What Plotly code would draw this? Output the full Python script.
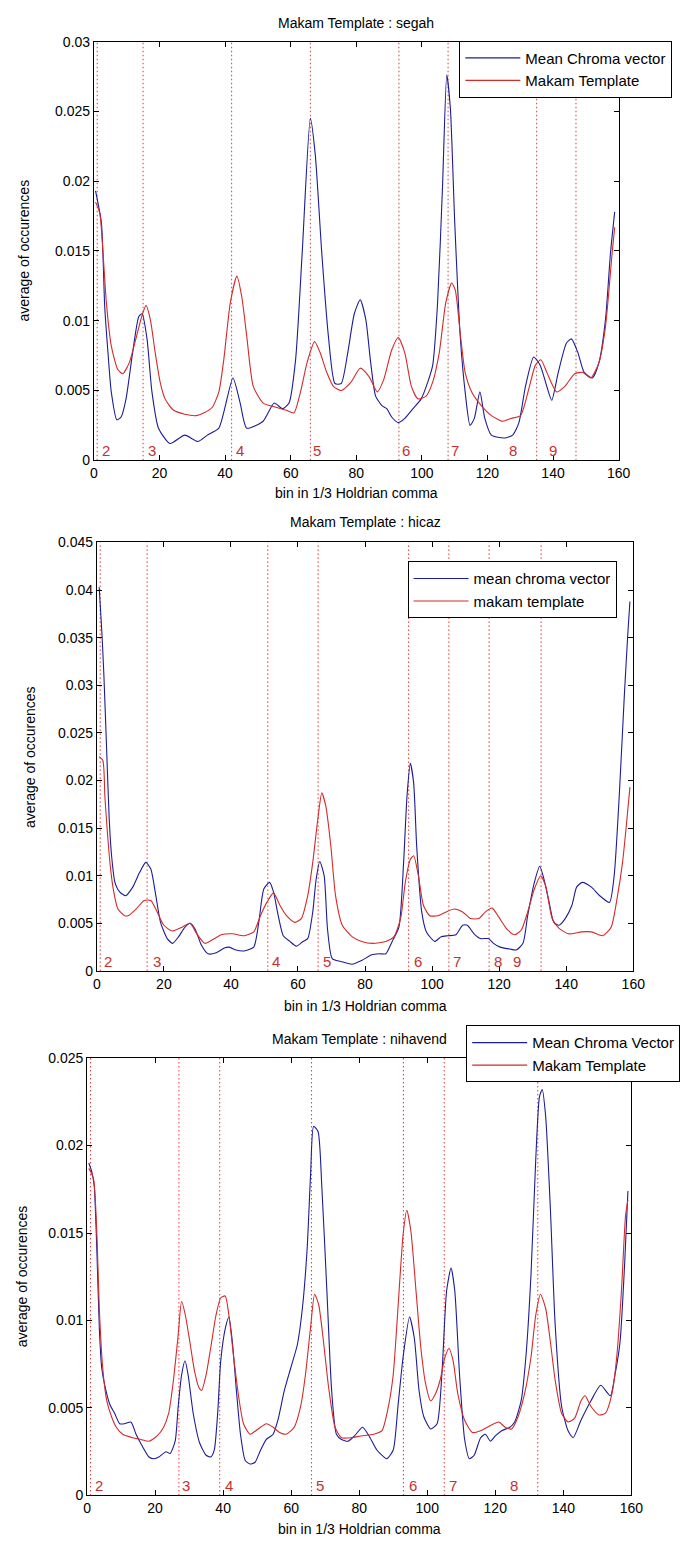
import plotly.graph_objects as go

# ---------------- data ----------------
x_ticks = [0, 20, 40, 60, 80, 100, 120, 140, 160]

segah_mean = [
    (0.5, 0.0193), (2.3, 0.0170), (3.3, 0.0110), (4.3, 0.0077), (5.3, 0.0049), (7.0, 0.0029),
    (8.3, 0.0031), (9.8, 0.0044), (11.8, 0.0077), (13.7, 0.0103), (14.7, 0.0105), (16.2, 0.0087),
    (17.7, 0.0049), (19.7, 0.0023), (23.2, 0.0012), (27.7, 0.0018), (31.7, 0.00135), (34.6, 0.0018),
    (38.1, 0.0023), (42.4, 0.0059), (44.6, 0.0041), (46.6, 0.0023), (51.6, 0.0028), (55.0, 0.0041),
    (57.5, 0.0037), (59.5, 0.0041), (61.5, 0.0072), (63.5, 0.0148), (66.0, 0.0245), (67.5, 0.0219),
    (69.5, 0.0148), (71.5, 0.0089), (73.5, 0.0055), (75.4, 0.0055), (77.4, 0.0077), (79.4, 0.0105),
    (81.2, 0.0115), (82.9, 0.0101), (84.4, 0.0070), (85.9, 0.0046), (87.9, 0.0039), (89.3, 0.0037),
    (90.8, 0.0031), (92.8, 0.0027), (94.8, 0.0030), (97.3, 0.0037), (99.8, 0.0044), (101.8, 0.0056),
    (103.3, 0.0068), (104.8, 0.0113), (106.3, 0.0196), (107.6, 0.0276), (108.7, 0.0252), (110.0, 0.0172),
    (111.7, 0.0089), (113.2, 0.0049), (114.7, 0.0025), (116.0, 0.0030), (117.7, 0.0049), (119.2, 0.0030),
    (121.2, 0.0018), (125.2, 0.0016), (127.7, 0.0018), (129.6, 0.0027), (131.6, 0.0053), (134.1, 0.0074),
    (136.1, 0.0068), (138.1, 0.0053), (139.6, 0.0043), (141.6, 0.0063), (144.1, 0.0084), (145.6, 0.0087),
    (147.6, 0.0077), (149.5, 0.0063), (152.0, 0.0059), (154.0, 0.0070), (156.0, 0.0101), (157.5, 0.0148),
    (158.8, 0.0178)]

segah_template = [
    (0.5, 0.0185), (1.8, 0.0177), (2.8, 0.0148), (3.8, 0.0113), (5.3, 0.0082), (7.3, 0.0065),
    (8.8, 0.0062), (10.8, 0.0070), (12.8, 0.0087), (14.7, 0.0104), (15.9, 0.0111), (17.2, 0.0101),
    (18.7, 0.0077), (20.2, 0.0056), (21.7, 0.0044), (24.2, 0.0036), (27.7, 0.0033), (31.2, 0.0032),
    (33.6, 0.0034), (36.1, 0.0038), (38.1, 0.0049), (39.6, 0.0072), (41.6, 0.0113), (43.6, 0.0132),
    (45.1, 0.0117), (46.6, 0.0089), (48.6, 0.0053), (51.6, 0.0041), (55.5, 0.0038), (58.5, 0.0036),
    (61.0, 0.0034), (63.0, 0.0049), (65.0, 0.0070), (67.3, 0.0085), (69.0, 0.0077), (71.0, 0.0063),
    (73.0, 0.0053), (75.4, 0.0050), (78.4, 0.0056), (81.2, 0.0066), (83.9, 0.0060), (86.4, 0.0049),
    (88.4, 0.0058), (90.8, 0.0079), (92.8, 0.0088), (94.8, 0.0077), (96.8, 0.0053), (98.8, 0.0044),
    (101.3, 0.0046), (103.3, 0.0056), (105.3, 0.0077), (107.3, 0.0113), (109.1, 0.0127), (110.2, 0.0122),
    (111.7, 0.0091), (113.2, 0.0063), (115.2, 0.0049), (118.2, 0.0039), (121.2, 0.0032), (124.7, 0.0028),
    (127.2, 0.0030), (130.1, 0.0032), (132.6, 0.0051), (134.6, 0.0068), (136.3, 0.0072), (138.1, 0.0063),
    (141.1, 0.0049), (143.6, 0.0053), (146.6, 0.0062), (149.1, 0.0063), (151.5, 0.0059), (154.0, 0.0070),
    (156.0, 0.0096), (158.0, 0.0148), (158.8, 0.0167)]

hicaz_mean = [
    (0.7, 0.0403), (1.5, 0.0356), (2.1, 0.0311), (2.9, 0.0235), (3.7, 0.0159), (4.4, 0.0121),
    (5.4, 0.0093), (6.8, 0.0083), (8.6, 0.0079), (10.7, 0.0088), (12.7, 0.0103), (14.6, 0.0114),
    (16.1, 0.0107), (17.6, 0.0079), (19.0, 0.0051), (21.0, 0.0034), (22.6, 0.0029), (24.4, 0.0036),
    (26.3, 0.0046), (27.8, 0.0050), (29.3, 0.0044), (31.2, 0.0027), (33.2, 0.0018), (35.6, 0.0019),
    (38.0, 0.0024), (39.5, 0.0025), (41.5, 0.0022), (43.9, 0.0021), (46.8, 0.0025), (48.3, 0.0051),
    (49.8, 0.0086), (51.5, 0.0093), (52.7, 0.0083), (54.1, 0.0058), (55.6, 0.0037), (57.6, 0.0031),
    (59.5, 0.0026), (61.5, 0.0031), (62.9, 0.0034), (64.4, 0.0062), (65.4, 0.0096), (66.5, 0.0115),
    (67.8, 0.0100), (68.8, 0.0044), (70.2, 0.0013), (72.7, 0.0010), (76.1, 0.0007), (79.0, 0.0011),
    (82.0, 0.0017), (84.2, 0.0018), (86.2, 0.0018), (88.1, 0.0031), (90.1, 0.0046), (91.5, 0.0114),
    (92.5, 0.0183), (93.5, 0.0218), (94.5, 0.0197), (95.4, 0.0131), (96.9, 0.0062), (98.3, 0.0041),
    (100.8, 0.0031), (102.7, 0.0036), (104.7, 0.0037), (107.1, 0.0038), (109.1, 0.0048), (110.5, 0.0048),
    (112.5, 0.0039), (114.4, 0.0034), (116.8, 0.0034), (118.3, 0.0029), (120.3, 0.0025), (123.2, 0.0023),
    (125.1, 0.0022), (127.1, 0.0029), (128.5, 0.0058), (130.5, 0.0093), (132.1, 0.0110), (133.4, 0.0096),
    (134.9, 0.0072), (136.3, 0.0051), (137.8, 0.0048), (139.7, 0.0055), (141.7, 0.0069), (143.1, 0.0088),
    (144.8, 0.0093), (147.5, 0.0088), (150.0, 0.0079), (152.9, 0.0072), (154.3, 0.0100), (155.8, 0.0183),
    (157.3, 0.0287), (158.4, 0.0356), (159.0, 0.0388)]

hicaz_template = [
    (0.7, 0.0225), (1.8, 0.0221), (2.4, 0.0183), (3.1, 0.0148), (3.9, 0.0114), (4.9, 0.0086),
    (6.3, 0.0065), (8.3, 0.0058), (9.3, 0.0058), (11.7, 0.0065), (14.1, 0.0074), (16.1, 0.0074),
    (18.0, 0.0062), (20.0, 0.0048), (22.4, 0.0042), (25.4, 0.0046), (27.8, 0.0050), (29.8, 0.0039),
    (32.2, 0.0029), (34.6, 0.0033), (37.1, 0.0038), (40.5, 0.0039), (43.9, 0.0037), (46.8, 0.0041),
    (48.8, 0.0058), (50.7, 0.0072), (52.7, 0.0082), (54.6, 0.0069), (56.6, 0.0058), (59.0, 0.0051),
    (61.0, 0.0055), (62.9, 0.0079), (64.4, 0.0114), (65.9, 0.0159), (67.1, 0.0187), (68.3, 0.0173),
    (69.8, 0.0131), (71.2, 0.0079), (73.2, 0.0048), (76.1, 0.0036), (79.0, 0.0031), (82.3, 0.0029),
    (86.2, 0.0031), (88.6, 0.0036), (90.6, 0.0055), (92.0, 0.0093), (93.5, 0.0117), (94.5, 0.0121),
    (95.9, 0.0100), (97.4, 0.0069), (99.3, 0.0058), (101.8, 0.0058), (104.2, 0.0062), (106.6, 0.0065),
    (109.1, 0.0062), (111.5, 0.0055), (113.9, 0.0055), (115.9, 0.0062), (117.9, 0.0066), (119.8, 0.0057),
    (122.3, 0.0044), (124.6, 0.0038), (126.6, 0.0043), (128.5, 0.0062), (130.5, 0.0086), (132.4, 0.0100),
    (133.9, 0.0089), (135.8, 0.0055), (137.8, 0.0045), (140.7, 0.0039), (144.6, 0.0041), (147.5, 0.0041),
    (150.9, 0.0037), (153.4, 0.0046), (155.3, 0.0079), (156.8, 0.0114), (157.8, 0.0148), (159.0, 0.0193)]

nihavend_mean = [
    (0.5, 0.0190), (1.4, 0.0185), (2.1, 0.0177), (2.9, 0.0139), (3.6, 0.0096), (4.3, 0.0073),
    (5.3, 0.0062), (6.7, 0.0052), (8.1, 0.0047), (9.6, 0.0041), (11.0, 0.0041), (12.9, 0.0042),
    (14.4, 0.0035), (16.3, 0.0028), (18.2, 0.0022), (19.7, 0.0021), (21.1, 0.0022), (23.2, 0.0025),
    (24.4, 0.0024), (25.9, 0.0031), (26.8, 0.0051), (27.8, 0.0069), (28.8, 0.0077), (29.7, 0.0069),
    (31.2, 0.0047), (33.1, 0.0030), (35.0, 0.0023), (36.4, 0.0022), (37.4, 0.0026), (38.4, 0.0047),
    (39.3, 0.0077), (40.7, 0.0096), (41.7, 0.0102), (42.7, 0.0088), (43.9, 0.0060), (45.1, 0.0035),
    (46.5, 0.0020), (47.9, 0.0018), (49.4, 0.0019), (50.8, 0.0025), (52.7, 0.0032), (54.7, 0.0035),
    (56.1, 0.0043), (58.0, 0.0060), (59.9, 0.0073), (61.8, 0.0086), (63.3, 0.0107), (64.7, 0.0141),
    (65.7, 0.0183), (66.6, 0.0211), (67.9, 0.0208), (69.0, 0.0177), (70.5, 0.0117), (71.9, 0.0060),
    (73.3, 0.0035), (74.8, 0.0032), (76.7, 0.0031), (78.6, 0.0034), (81.0, 0.0039), (82.9, 0.0034),
    (85.2, 0.0026), (88.1, 0.0021), (90.0, 0.0026), (91.4, 0.0051), (92.9, 0.0079), (94.8, 0.0102),
    (96.2, 0.0090), (97.6, 0.0060), (99.0, 0.0045), (101.0, 0.0038), (102.9, 0.0041), (104.3, 0.0069),
    (105.7, 0.0117), (107.0, 0.0130), (108.1, 0.0117), (109.5, 0.0069), (111.0, 0.0032), (112.4, 0.0021),
    (113.8, 0.0023), (115.7, 0.0033), (117.1, 0.0035), (118.6, 0.0031), (120.0, 0.0034), (121.9, 0.0037),
    (124.3, 0.0039), (125.7, 0.0042), (127.6, 0.0054), (129.0, 0.0079), (130.5, 0.0126), (131.9, 0.0192),
    (133.0, 0.0228), (133.8, 0.0232), (134.8, 0.0217), (136.2, 0.0164), (137.6, 0.0098), (139.5, 0.0051),
    (141.4, 0.0037), (142.9, 0.0033), (145.2, 0.0043), (148.1, 0.0054), (151.0, 0.0063), (153.8, 0.0057),
    (155.2, 0.0069), (156.7, 0.0088), (158.1, 0.0135), (159.0, 0.0174)]

nihavend_template = [
    (0.5, 0.0187), (1.9, 0.0181), (2.9, 0.0149), (3.6, 0.0107), (4.6, 0.0073), (5.8, 0.0054),
    (7.2, 0.0045), (8.6, 0.0039), (10.5, 0.0035), (13.4, 0.0033), (15.8, 0.0032), (18.2, 0.0031),
    (20.6, 0.0034), (22.5, 0.0039), (24.0, 0.0047), (25.4, 0.0066), (26.7, 0.0090), (27.8, 0.0111),
    (28.9, 0.0103), (30.2, 0.0088), (31.6, 0.0071), (32.8, 0.0062), (33.7, 0.0060), (35.0, 0.0069),
    (36.4, 0.0085), (37.9, 0.0103), (39.3, 0.0113), (40.6, 0.0114), (41.7, 0.0103), (43.1, 0.0079),
    (44.6, 0.0056), (46.0, 0.0041), (47.9, 0.0035), (50.3, 0.0038), (52.7, 0.0041), (54.7, 0.0039),
    (56.6, 0.0036), (58.5, 0.0035), (60.9, 0.0039), (62.8, 0.0051), (64.2, 0.0069), (65.7, 0.0096),
    (66.9, 0.0115), (68.1, 0.0109), (69.5, 0.0088), (71.0, 0.0062), (72.9, 0.0039), (74.8, 0.0033),
    (77.7, 0.0033), (80.5, 0.0034), (84.3, 0.0035), (86.7, 0.0037), (88.6, 0.0051), (90.0, 0.0069),
    (91.4, 0.0107), (92.9, 0.0149), (94.0, 0.0163), (95.2, 0.0151), (96.7, 0.0117), (98.1, 0.0085),
    (99.5, 0.0064), (101.0, 0.0054), (102.4, 0.0058), (103.8, 0.0066), (105.2, 0.0079), (106.4, 0.0084),
    (107.6, 0.0077), (109.0, 0.0058), (111.0, 0.0043), (113.3, 0.0036), (115.7, 0.0037), (118.6, 0.0040),
    (121.0, 0.0042), (122.9, 0.0039), (124.8, 0.0038), (126.7, 0.0045), (128.6, 0.0058), (130.5, 0.0079),
    (131.9, 0.0103), (133.3, 0.0115), (134.8, 0.0107), (136.2, 0.0088), (137.6, 0.0066), (139.5, 0.0047),
    (141.4, 0.0042), (143.3, 0.0044), (145.2, 0.0054), (146.4, 0.0057), (148.1, 0.0051), (150.5, 0.0046),
    (152.4, 0.0047), (154.3, 0.0058), (155.7, 0.0079), (157.1, 0.0117), (158.3, 0.0160), (159.0, 0.0169)]

segah_lines = [1, 15, 42, 66, 93, 108, 135, 147]
segah_label_x = [3.8, 17.8, 44.4, 68.1, 95.3, 110, 127.7, 140]
segah_labels = ["2", "3", "4", "5", "6", "7", "8", "9"]

hicaz_lines = [1, 15, 51, 66, 93, 105, 117, 132.5]
hicaz_label_x = [3.4, 17.8, 53.5, 68.6, 95.8, 107.5, 119.7, 125.4]
hicaz_labels = ["2", "3", "4", "5", "6", "7", "8", "9"]

nihavend_lines = [1, 27, 39, 66, 93, 105, 132.5]
nihavend_label_x = [3.6, 29.2, 41.7, 68.6, 95.7, 107.6, 125.4]
nihavend_labels = ["2", "3", "4", "5", "6", "7", "8"]

segah_yticks = [0, 0.005, 0.01, 0.015, 0.02, 0.025, 0.03]
segah_yticktext = ["0", "0.005", "0.01", "0.015", "0.02", "0.025", "0.03"]
hicaz_yticks = [0, 0.005, 0.01, 0.015, 0.02, 0.025, 0.03, 0.035, 0.04, 0.045]
hicaz_yticktext = ["0", "0.005", "0.01", "0.015", "0.02", "0.025", "0.03", "0.035", "0.04", "0.045"]
nihavend_yticks = [0, 0.005, 0.01, 0.015, 0.02, 0.025]
nihavend_yticktext = ["0", "0.005", "0.01", "0.015", "0.02", "0.025"]

# ---------------- styling / layout ----------------
W, H = 700, 1548
FONT = "Liberation Sans, Arial, Helvetica, sans-serif"
FS = 14
BLUE = "#1c1c96"
RED = "#d42a2a"
VLINE = "#e03838"
LABEL_RED = "#c83030"

panels = [
    dict(title="Makam Template : segah", mean=segah_mean, tmpl=segah_template,
         names=("Mean Chroma vector", "Makam Template"),
         lines=segah_lines, lab_x=segah_label_x, labels=segah_labels,
         yt=segah_yticks, ytt=segah_yticktext,
         box=(92, 629, 34, 457), title_y=15, xlab_y=490, ylab_x=20, leg=(466, 33)),
    dict(title="Makam Template : hicaz", mean=hicaz_mean, tmpl=hicaz_template,
         names=("mean chroma vector", "makam template"),
         lines=hicaz_lines, lab_x=hicaz_label_x, labels=hicaz_labels,
         yt=hicaz_yticks, ytt=hicaz_yticktext,
         box=(95, 644, 540, 973), title_y=519, xlab_y=1008, ylab_x=26, leg=(413, 559)),
    dict(title="Makam Template : nihavend", mean=nihavend_mean, tmpl=nihavend_template,
         names=("Mean Chroma Vector", "Makam Template"),
         lines=nihavend_lines, lab_x=nihavend_label_x, labels=nihavend_labels,
         yt=nihavend_yticks, ytt=nihavend_yticktext,
         box=(85, 642, 1061, 1503), title_y=1042, xlab_y=1537, ylab_x=18, leg=(473, 1028)),
]

fig = go.Figure()
annotations = []
shapes = []
layout_axes = {}

for i, p in enumerate(panels, start=1):
    xa = "x" if i == 1 else f"x{i}"
    ya = "y" if i == 1 else f"y{i}"
    leg = "legend" if i == 1 else f"legend{i}"
    x0, x1, yt, yb = p["box"]
    ymax = p["yt"][-1]

    for series, name, color in ((p["mean"], p["names"][0], BLUE), (p["tmpl"], p["names"][1], RED)):
        fig.add_trace(go.Scatter(
            x=[v[0] for v in series], y=[v[1] for v in series],
            mode="lines", name=name,
            line=dict(color=color, width=1.1, shape="spline", smoothing=0.6),
            xaxis=xa, yaxis=ya, legend=leg, showlegend=True))

    for lx in p["lines"]:
        shapes.append(dict(type="line", xref=xa, yref=ya, x0=lx, x1=lx, y0=0, y1=ymax,
                           line=dict(color=VLINE, width=1, dash="1.5px,2.5px"), layer="below"))
    for tx, lab in zip(p["lab_x"], p["labels"]):
        annotations.append(dict(x=tx, y=0, xref=xa, yref=ya, text=lab, showarrow=False,
                                xanchor="center", yanchor="bottom", yshift=-1,
                                font=dict(family=FONT, size=FS + 1, color=LABEL_RED)))

    axis_common = dict(showline=True, linecolor="black", linewidth=1, mirror="ticks",
                       ticks="inside", ticklen=5, tickcolor="black", showgrid=False,
                       zeroline=False, tickfont=dict(family=FONT, size=FS, color="black"))
    layout_axes["xaxis" if i == 1 else f"xaxis{i}"] = dict(
        domain=[x0 / W, x1 / W], anchor=ya, range=[0, 160], tickvals=x_ticks, **axis_common)
    layout_axes["yaxis" if i == 1 else f"yaxis{i}"] = dict(
        domain=[1 - yb / H, 1 - yt / H], anchor=xa, range=[0, ymax],
        tickvals=p["yt"], ticktext=p["ytt"], **axis_common)

    lx0, ly0 = p["leg"]
    layout_axes[leg] = dict(x=lx0 / W, y=1 - ly0 / H, xanchor="left", yanchor="top",
                            bgcolor="white", bordercolor="black", borderwidth=1,
                            font=dict(family=FONT, size=FS + 1, color="black"),
                            itemwidth=55, tracegroupgap=0)

    cx = (x0 + x1) / 2 / W
    annotations.append(dict(x=cx, y=1 - p["title_y"] / H, xref="paper", yref="paper",
                            text=p["title"], showarrow=False, xanchor="center", yanchor="middle",
                            font=dict(family=FONT, size=FS, color="black")))
    annotations.append(dict(x=cx, y=1 - p["xlab_y"] / H, xref="paper", yref="paper",
                            text="bin in 1/3 Holdrian comma", showarrow=False,
                            xanchor="center", yanchor="middle",
                            font=dict(family=FONT, size=FS, color="black")))
    annotations.append(dict(x=p["ylab_x"] / W, y=1 - (yt + yb) / 2 / H, xref="paper", yref="paper",
                            text="average of occurences", showarrow=False, textangle=-90,
                            xanchor="center", yanchor="middle",
                            font=dict(family=FONT, size=FS, color="black")))

fig.update_layout(
    width=W, height=H, margin=dict(l=0, r=0, t=0, b=0),
    paper_bgcolor="white", plot_bgcolor="white",
    annotations=annotations, shapes=shapes, **layout_axes)

fig.write_html("out.html")
